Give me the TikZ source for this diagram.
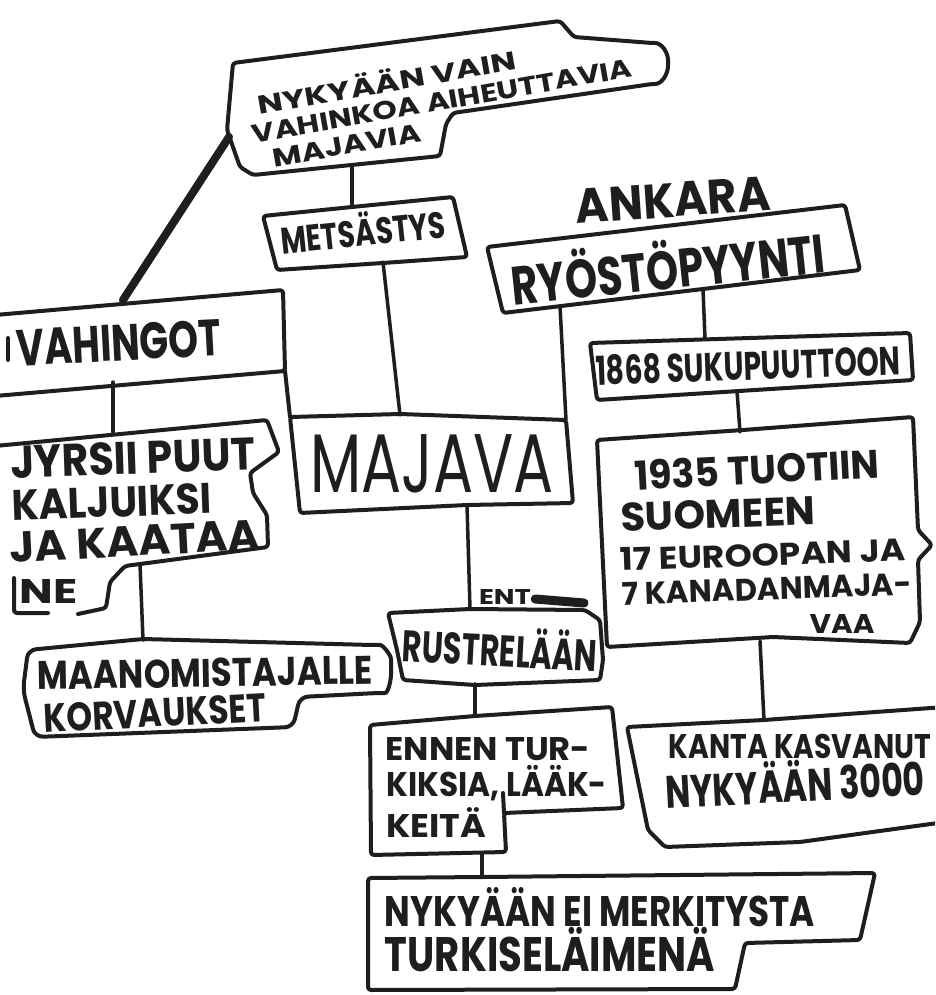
\documentclass[tikz,border=0pt]{standalone}
\usepackage{graphicx}
\usepackage{fontspec}
\setmainfont{Poppins}
\definecolor{ink}{HTML}{1E1E1E}
% hand-lettered line: fixed width and cap height
\newcommand\hand[3]{\resizebox{#1pt}{#2pt}{\smash{#3}\vphantom{E}}}
\tikzset{
  frame/.style={draw=ink, line width=4pt, line join=round, line cap=round, rounded corners=3pt},
  link/.style={draw=ink, line width=3.5pt, line cap=round},
  lbl/.style={inner sep=0pt, text=ink, font=\bfseries\fontsize{20}{24}\selectfont},
  thinlbl/.style={inner sep=0pt, text=ink, font=\fontsize{20}{24}\selectfont}
}
\begin{document}
\begin{tikzpicture}[x=1pt,y=-1pt]
\useasboundingbox (0,0) rectangle (935,995);
\fill[white] (0,0) rectangle (935,995);
\clip (0,0) rectangle (935,995);

% ---- box outlines ----
% top: present-day nuisance beavers
\draw[frame] (233,63) -- (560,21) -- (574,37) -- (652,43) to[out=0,in=90] (668,63)
  to[out=-90,in=0] (652,84) -- (453,113) -- (446,124) -- (440,156) -- (253,175)
  -- (240,167) -- (227,130) -- cycle;
% hunting
\draw[frame] (263,216) -- (352,207) -- (453,197) -- (467,257) -- (383,263) -- (277,270) -- cycle;
% protection
\draw[frame] (487,247) -- (845,205) -- (860,270) -- (703,289) -- (503,313) -- cycle;
% damage
\draw[frame] (-5,315) -- (283,290) -- (285,371) -- (-5,396);
\draw[frame] (8,338) -- (8,360);
% gnawing trees
\draw[frame] (-5,446) -- (267,420) -- (279,452) -- (250,473) -- (253,493) -- (267,515)
  -- (268,547) -- (125,566) -- (110,582) -- (106,608) -- (78,614);
\draw[frame] (14,578) -- (14,613) -- (48,613);
% compensation
\draw[frame, rounded corners=8pt] (28,650) -- (143,639) -- (372,645) to[out=0,in=90] (391,667)
  to[out=-90,in=0] (377,693) -- (300,697) -- (293,727) -- (35,737) -- (23,690) -- cycle;
% centre
\draw[frame] (290,417) -- (400,414) -- (566,420) -- (573,503) -- (467,505) -- (300,513) -- cycle;
% 1868
\draw[frame] (590,343) -- (910,333) -- (913,380) -- (597,400) -- cycle;
% 1935
\draw[frame] (597,440) -- (743,430) -- (913,417) -- (918,530) -- (932,545) -- (918,560)
  -- (920,622) -- (910,643) -- (773,637) -- (607,647) -- cycle;
% population
\draw[frame] (945,707) -- (764,720) -- (627,727) -- (648,830) -- (665,847) -- (800,842) -- (945,822);
% australia
\draw[frame] (388,613) -- (470,609) -- (585,610) -- (600,620) -- (603,660) -- (600,680)
  -- (475,685) -- (403,680) -- (397,650) -- cycle;
% fur and medicine
\draw[frame] (370,725) -- (475,716) -- (612,707) -- (623,808) -- (504,813) -- (506,852)
  -- (371,855) -- cycle;
\draw[frame] (503,793) -- (504,813);
% no value as fur animal
\draw[frame] (368,878) -- (482,877) -- (875,873) -- (860,940) -- (745,943) -- (735,989)
  -- (368,990) -- cycle;

% ---- connector ends ----
\coordinate (tb-b) at (352,165);  \coordinate (me-t) at (352,207);
\coordinate (me-b) at (383,262);  \coordinate (mj-t) at (400,415);
\coordinate (ry-b1) at (560,306); \coordinate (mj-tr) at (566,420);
\coordinate (tb-l) at (229,137);  \coordinate (va-t) at (123,300);
\coordinate (va-r) at (285,371);  \coordinate (mj-tl) at (290,417);
\coordinate (va-b) at (113,382);  \coordinate (jy-t) at (113,432);
\coordinate (jy-b) at (140,564);  \coordinate (ma-t) at (143,640);
\coordinate (mj-b) at (467,505);  \coordinate (ru-t) at (470,609);
\coordinate (ru-b) at (475,684);  \coordinate (en-t) at (475,716);
\coordinate (en-b) at (482,853);  \coordinate (ny-t) at (482,877);
\coordinate (ry-b2) at (703,289); \coordinate (s68-t) at (705,339);
\coordinate (s68-b) at (737,391); \coordinate (s35-t) at (740,432);
\coordinate (s35-b) at (760,641); \coordinate (ka-t) at (764,720);

% ---- connectors ----
\draw[link] (tb-b) -- (me-t);
\draw[link] (me-b) -- (mj-t);
\draw[link] (ry-b1) -- (mj-tr);
\draw[link, line width=8pt] (tb-l) -- (va-t);
\draw[link, line width=4pt] (va-r) -- (mj-tl);
\draw[link] (va-b) -- (jy-t);
\draw[link] (jy-b) -- (ma-t);
\draw[link] (mj-b) -- (ru-t);
\draw[link] (ru-b) -- (en-t);
\draw[link] (en-b) -- (ny-t);
\draw[link] (ry-b2) -- (s68-t);
\draw[link] (s68-b) -- (s35-t);
\draw[link] (s35-b) -- (ka-t);

% ---- lettering ----
\node[lbl, rotate=10, align=left, font=\bfseries\fontsize{20}{27}\selectfont] (top) at (442,101)
  {\hspace{10pt}\hand{262}{18}{NYKYÄÄN VAIN}\\
   \hand{385}{18}{VAHINKOA AIHEUTTAVIA}\\
   \hspace{16pt}\hand{150}{18}{MAJAVIA}};

\node[lbl, rotate=6] (hunt) at (363,233) {\hand{165}{26}{METSÄSTYS}};

\node[lbl, rotate=4] (ank) at (673,200) {\hand{195}{34}{ANKARA}};
\node[lbl, rotate=6] (rys) at (668,270) {\hand{315}{38}{RYÖSTÖPYYNTI}};

\node[lbl, rotate=3] (vah) at (119,343) {\hand{205}{36}{VAHINGOT}};

\node[lbl, rotate=2] (j1) at (133,458) {\hand{245}{32}{JYRSII PUUT}};
\node[lbl, rotate=2] (j2) at (112,502) {\hand{200}{30}{KALJUIKSI}};
\node[lbl, rotate=3] (j3) at (135,541) {\hand{250}{30}{JA KAATAA}};
\node[lbl] (j4) at (49,591) {\hand{58}{24}{NE}};

\node[lbl, rotate=1] (m1) at (205,673) {\hand{335}{28}{MAANOMISTAJALLE}};
\node[lbl, rotate=3] (m2) at (155,713) {\hand{222}{28}{KORVAUKSET}};

\node[thinlbl] (maj) at (432,463) {\hand{243}{58}{MAJAVA}};

\node[lbl] (ent) at (505,597) {\hand{52}{15}{ENT}};
\draw[ink, line width=9pt, line cap=round] (ent.east) ++(4,2) -- (584,603);
\node[lbl, rotate=-3] (aus) at (500,651) {\hand{195}{31}{RUSTRELÄÄN}};

\node[lbl, rotate=2] (d1) at (748,366) {\hand{305}{28}{1868 SUKUPUUTTOON}};

\node[lbl, rotate=3] (s1) at (757,470) {\hand{245}{28}{1935 TUOTIIN}};
\node[lbl, rotate=2] (s2) at (718,514) {\hand{195}{28}{SUOMEEN}};
\node[lbl, rotate=2] (s3) at (763,555) {\hand{285}{22}{17 EUROOPAN JA}};
\node[lbl, rotate=2] (s4) at (767,589) {\hand{290}{22}{7 KANADANMAJA-}};
\node[lbl] (s5) at (842,624) {\hand{65}{19}{VAA}};

\node[lbl] (e1) at (488,749) {\hand{205}{23}{ENNEN TUR-}};
\node[lbl] (e2) at (497,784) {\hand{220}{24}{KIKSIA, LÄÄK-}};
\node[lbl] (e3) at (436,826) {\hand{100}{23}{KEITÄ}};

\node[lbl] (k1) at (800,746) {\hand{262}{24}{KANTA KASVANUT}};
\node[lbl, rotate=3] (k2) at (795,786) {\hand{260}{32}{NYKYÄÄN 3000}};

\node[lbl] (n1) at (600,911) {\hand{430}{30}{NYKYÄÄN EI MERKITYSTA}};
\node[lbl] (n2) at (550,954) {\hand{330}{34}{TURKISELÄIMENÄ}};
\end{tikzpicture}
\end{document}
